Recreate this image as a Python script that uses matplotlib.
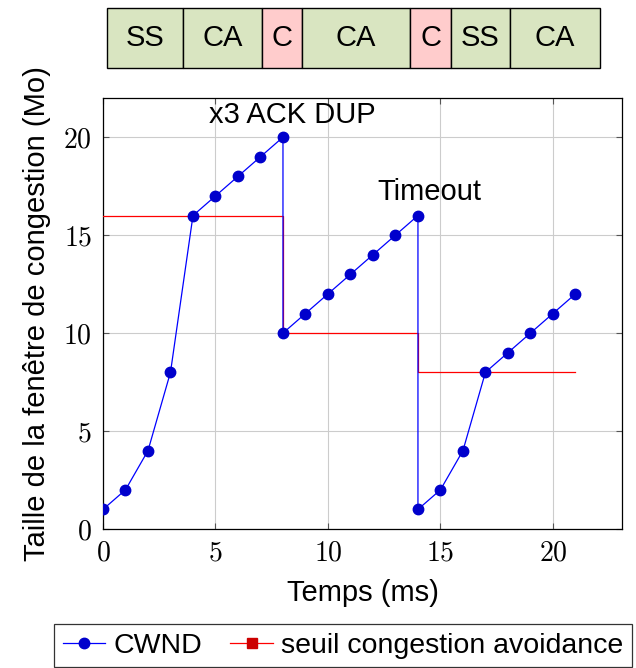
import matplotlib
matplotlib.use("Agg")
import matplotlib.pyplot as plt
from matplotlib.patches import Rectangle
from matplotlib.lines import Line2D

plt.rcParams['font.family'] = ['Liberation Sans', 'DejaVu Sans']
plt.rcParams['mathtext.fontset'] = 'cm'

# Data
t_cwnd = [0, 1, 2, 3, 4, 5, 6, 7, 8, 8, 9, 10, 11, 12, 13, 14, 14, 15, 16, 17, 18, 19, 20, 21]
cwnd = [1, 2, 4, 8, 16, 17, 18, 19, 20, 10, 11, 12, 13, 14, 15, 16, 1, 2, 4, 8, 9, 10, 11, 12]
t_seuil = [0, 8, 8, 14, 14, 21]
seuil = [16, 16, 10, 10, 8, 8]
xticks = [0, 5, 10, 15, 20]
yticks = [0, 5, 10, 15, 20]
phase_labels = ['SS', 'CA', 'C', 'CA', 'C', 'SS', 'CA']
phase_widths = [76, 79, 40, 108, 41, 59, 90]
phase_kind = ['ok', 'ok', 'c', 'ok', 'c', 'ok', 'ok']
annotations = [('x3 ACK DUP', 8.4, 20.72), ('Timeout', 14.49, 16.79)]

W, H = 636, 668
fig = plt.figure(figsize=(W / 100, H / 100), dpi=100)

ax = fig.add_axes([103 / W, 1 - 529 / H, (622 - 103) / W, (529 - 98) / H])
ax.plot(t_seuil, seuil, color='red', lw=0.9, zorder=3)
ax.plot(t_cwnd, cwnd, color='#0000ff', lw=0.9, marker='o', markersize=7.5,
        markerfacecolor='#0000cc', markeredgecolor='#0000cc', zorder=4)
ax.set_xlim(0, 23.07)
ax.set_ylim(0, 22)
ax.set_xticks(xticks)
ax.set_yticks(yticks)
ax.set_xticklabels([f'${v}$' for v in xticks], fontsize=20)
ax.set_yticklabels([f'${v}$' for v in yticks], fontsize=20)
ax.tick_params(direction='in', top=True, right=True, length=4, color='#555555',
               width=0.8, pad=8)
ax.grid(True, color='#cccccc', lw=0.8)
ax.set_axisbelow(True)
for s in ax.spines.values():
    s.set_linewidth(0.9)
ax.set_xlabel('Temps (ms)', fontsize=21, labelpad=9)
ax.set_ylabel('Taille de la fenêtre de congestion (Mo)', fontsize=21, labelpad=9)
for txt, x, y in annotations:
    ax.text(x, y, txt, fontsize=21, ha='center', va='baseline')

# Phase band
bax = fig.add_axes([107 / W, 1 - 68 / H, (600 - 107) / W, (68 - 8) / H])
bax.set_xlim(0, sum(phase_widths))
bax.set_ylim(0, 1)
bax.axis('off')
x0 = 0
for lab, w, k in zip(phase_labels, phase_widths, phase_kind):
    fc = '#ffcccc' if k == 'c' else '#d9e5c1'
    bax.add_patch(Rectangle((x0, 0), w, 1, facecolor=fc, edgecolor='black', lw=1.0, clip_on=False))
    bax.text(x0 + w / 2, 0.5, lab, ha='center', va='center', fontsize=21)
    x0 += w

handles = [Line2D([], [], color='#0000ff', lw=0.9, marker='o', markersize=7.5,
                  markerfacecolor='#0000cc', markeredgecolor='#0000cc'),
           Line2D([], [], color='red', lw=0.9, marker='s', markersize=7,
                  markerfacecolor='#cc0000', markeredgecolor='#cc0000')]
leg = fig.legend(handles, ['CWND', 'seuil congestion avoidance'], loc='upper left',
                 bbox_to_anchor=(54 / W, 1 - 624 / H), ncol=2, fontsize=20.5,
                 frameon=True, fancybox=False, edgecolor='black', handlelength=1.5,
                 handletextpad=0.28, columnspacing=1.0, borderpad=0.3, borderaxespad=0)
leg.get_frame().set_linewidth(0.9)

fig.savefig('out.png', dpi=100)
